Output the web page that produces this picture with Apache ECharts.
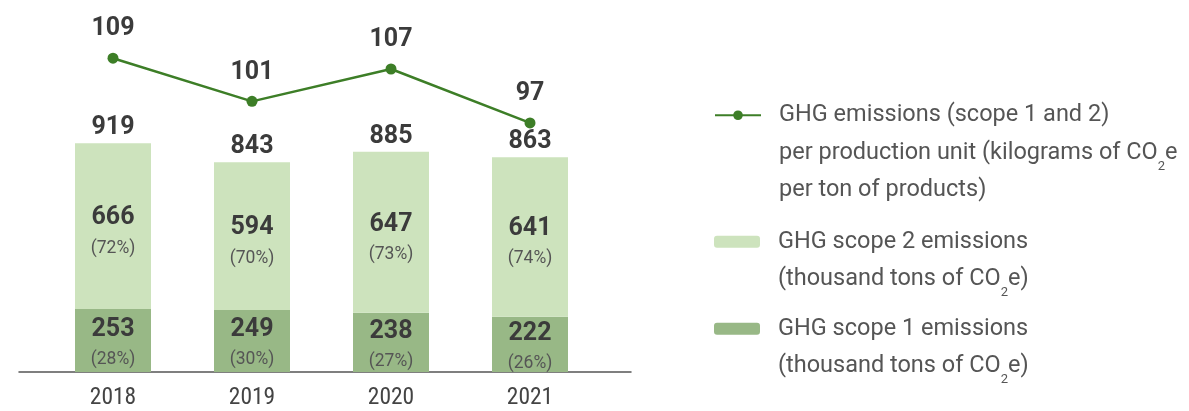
<!DOCTYPE html>
<html>
<head>
<meta charset="utf-8">
<script src="https://cdn.jsdelivr.net/npm/echarts@6/dist/echarts.min.js"></script>
<style>
  html, body { margin: 0; padding: 0; background: #ffffff; }
  #chart { width: 1189px; height: 411px; }
</style>
</head>
<body>
<div id="chart"></div>
<script>
// GHG emissions by year
const years = ['2018', '2019', '2020', '2021'];
const scope1 = [253, 249, 238, 222];          // thousand tons of CO2e
const scope2 = [666, 594, 647, 641];          // thousand tons of CO2e
const intensity = [109, 101, 107, 97];        // kg CO2e per ton of products

const totals = scope1.map((v, i) => v + scope2[i]);
const share = (part, i) => Math.round(part / totals[i] * 100);

const FONT = "Roboto, 'Noto Sans', sans-serif";
const FONT_NARROW = "'Roboto Condensed', 'Liberation Sans Narrow', Roboto, sans-serif";
const DARK = '#3b3b3b';
const GREY = '#555555';
const LINE_GREEN = '#3d7e27';
const LIGHT_BAR = '#cde3bd';
const DARK_BAR = '#98b886';

const LH = 37.5;
const legendRich = {
  s: { fontSize: 13, lineHeight: 8, height: 10, verticalAlign: 'bottom', color: GREY, fontFamily: FONT }
};
function legendBlock(top, lines, name, formatter) {
  return {
    left: 714,
    top: top,
    padding: 0,
    orient: 'vertical',
    selectedMode: false,
    itemWidth: 46,
    itemHeight: 12,
    data: [name],
    formatter: formatter,
    textStyle: {
      fontFamily: FONT,
      fontSize: 23.5,
      color: GREY,
      lineHeight: LH,
      padding: [(lines - 1) * LH, 0, 0, 13],
      rich: legendRich
    }
  };
}

const segLabel = (values, dy) => ({
  show: true,
  position: 'inside',
  offset: [0, dy],
  fontFamily: FONT,
  formatter: (p) => '{v|' + values[p.dataIndex] + '}\n{p|(' + share(values[p.dataIndex], p.dataIndex) + '%)}',
  rich: {
    v: { fontSize: 25, fontWeight: 'bold', lineHeight: 30, color: DARK, fontFamily: FONT },
    p: { fontSize: 17.5, lineHeight: 30, color: GREY, fontFamily: FONT }
  }
});

const valueLabel = (distance) => ({
  show: true,
  position: 'top',
  distance: distance,
  fontSize: 25,
  fontWeight: 'bold',
  color: DARK,
  fontFamily: FONT
});

const NAME_LINE = 'GHG emissions intensity';
const NAME_S2 = 'GHG scope 2 emissions';
const NAME_S1 = 'GHG scope 1 emissions';

const option = {
  animation: false,
  backgroundColor: '#ffffff',
  textStyle: { fontFamily: FONT },
  legend: [
    legendBlock(21.5, 3, NAME_LINE, () =>
      'GHG emissions (scope 1 and 2)\nper production unit (kilograms of CO{s|2}e\nper ton of products)'),
    legendBlock(185.5, 2, NAME_S2, () =>
      'GHG scope 2 emissions\n(thousand tons of CO{s|2}e)'),
    legendBlock(272.5, 2, NAME_S1, () =>
      'GHG scope 1 emissions\n(thousand tons of CO{s|2}e)')
  ],
  grid: [
    { left: 43.5, right: 589.5, top: 0, bottom: 39 },
    { left: 19, right: 558, top: 0, bottom: 39 }
  ],
  xAxis: [
    {
      type: 'category',
      gridIndex: 0,
      data: years,
      axisLine: { show: false },
      axisTick: { show: false },
      axisLabel: { fontSize: 23.5, color: '#444444', margin: 14, fontFamily: FONT_NARROW }
    },
    {
      type: 'value',
      gridIndex: 1,
      min: 0,
      max: 1,
      axisLine: { show: true, lineStyle: { color: GREY, width: 1.5 } },
      axisTick: { show: false },
      axisLabel: { show: false },
      splitLine: { show: false }
    }
  ],
  yAxis: [
    { type: 'value', gridIndex: 0, min: 0, max: 1495, show: false },
    { type: 'value', gridIndex: 0, min: 50.8, max: 119.8, show: false },
    { type: 'value', gridIndex: 1, min: 0, max: 1, show: false }
  ],
  series: [
    {
      name: NAME_S1,
      type: 'bar',
      stack: 'ghg',
      barWidth: 76,
      barGap: '-100%',
      itemStyle: { color: DARK_BAR },
      label: segLabel(scope1, 4),
      data: scope1
    },
    {
      name: NAME_S2,
      type: 'bar',
      stack: 'ghg',
      barWidth: 76,
      barGap: '-100%',
      itemStyle: { color: LIGHT_BAR },
      label: segLabel(scope2, 7),
      data: scope2
    },
    {
      name: 'total',
      type: 'bar',
      barWidth: 76,
      barGap: '-100%',
      silent: true,
      itemStyle: { color: 'rgba(0,0,0,0)' },
      label: valueLabel(3),
      data: totals
    },
    {
      name: NAME_LINE,
      type: 'line',
      yAxisIndex: 1,
      z: 5,
      symbol: 'circle',
      symbolSize: 11,
      color: LINE_GREEN,
      lineStyle: { color: LINE_GREEN, width: 2.5 },
      itemStyle: { color: LINE_GREEN },
      label: valueLabel(11),
      data: intensity
    }
  ]
};

const chart = echarts.init(document.getElementById('chart'), null, { renderer: 'canvas' });
chart.setOption(option);
</script>
</body>
</html>
